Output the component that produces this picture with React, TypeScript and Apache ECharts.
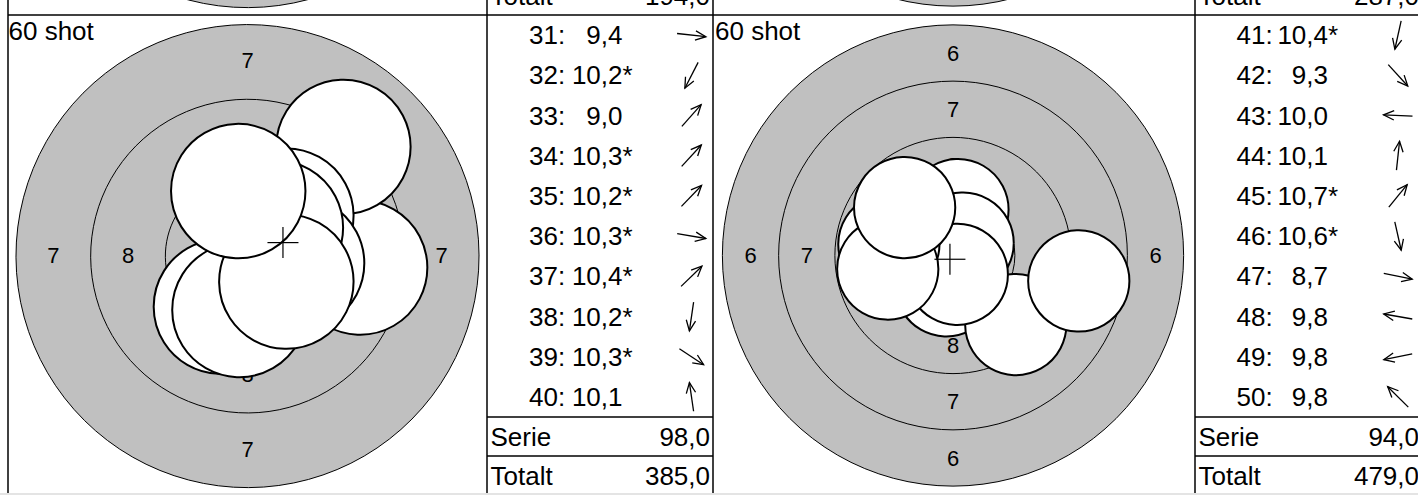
import React, { useEffect, useRef } from "react";
import * as echarts from "echarts";

const FONT_FAMILY = '"Liberation Sans", Arial, Helvetica, sans-serif';

// ---- Target geometry: 10 m air rifle target (millimetres) ----
const ringValues = [6, 7, 8, 9, 10];
const ringRadiiMm = [10.25, 7.75, 5.25, 2.75, 0.25];
const pelletRadiusMm = 2.25;
const highestLabelledRing = 8;

// ---- Texts ----
const panelTitle = "60 shot";
const serieLabel = "Serie";
const totalLabel = "Totalt";

// ---- Left panel: shots 31-40 ----
const shotNumbersA = [31, 32, 33, 34, 35, 36, 37, 38, 39, 40];
const scoresA = [9.4, 10.2, 9.0, 10.3, 10.2, 10.3, 10.4, 10.2, 10.3, 10.1];
const innerTenA = [false, true, false, true, true, true, true, true, true, false];
const shotXA = [3.77, -0.89, 3.21, 1.15, 1.3, 1.66, 0.95, -0.27, 1.3, -0.31];
const shotYA = [-0.42, -1.73, 3.62, 1.25, 1.35, -0.28, 0.92, -1.84, -0.86, 2.14];
const serieA = 98.0;
const totalA = 385.0;
const outerRingA = 7;

// ---- Right panel: shots 41-50 ----
const shotNumbersB = [41, 42, 43, 44, 45, 46, 47, 48, 49, 50];
const scoresB = [10.4, 9.3, 10.0, 10.1, 10.7, 10.6, 8.7, 9.8, 9.8, 9.8];
const innerTenB = [true, false, false, false, true, true, false, false, false, false];
const shotXB = [-0.3, 2.79, -2.4, 0.22, 0.45, 0.19, 5.59, -2.85, -2.9, -2.15];
const shotYB = [-1.35, -3.07, 0.1, 2.04, 0.55, -0.84, -1.13, 0.5, -0.6, 2.13];
const serieB = 94.0;
const totalB = 479.0;
const outerRingB = 6;

// ---- Previous (partly visible) panels above ----
const previousTotals = [194.0, 287.0];
const previousOuterRings = [7, 6];

// ---- Layout (pixels) ----
const ROW_TOP = 15;
const ROW_H = 40.2;
const SERIE_TOP = 417;
const TOTAL_TOP = 456;
const BOTTOM = 495;
const PERIOD = 480;

const layouts = [
  { frameX: 8, tableX: 487, tableR: 713, cx: 247.5, cy: 255, half: 239, range: 8, titleX: 8.5, labelDx: 42, scoreDx: 135.5, arrowDx: 204.5, valueR: 710 },
  { frameX: 713, tableX: 1195, tableR: 1420, cx: 953, cy: 255.5, half: 236.25, range: 10.5, titleX: 715, labelDx: 41.5, scoreDx: 133, arrowDx: 203, valueR: 1419 },
];

const fmt = (v: number) => v.toFixed(1).replace(".", ",");

const txt = (x: number, y: number, text: string, align: string, size = 26) => ({
  type: "text",
  x,
  y,
  silent: true,
  z: 10,
  style: { text, font: `${size}px ${FONT_FAMILY}`, fill: "#000", align, verticalAlign: "middle" },
});

const ln = (x1: number, y1: number, x2: number, y2: number, w = 1.5, color = "#000") => ({
  type: "line",
  silent: true,
  z: 10,
  shape: { x1, y1, x2, y2 },
  style: { stroke: color, lineWidth: w },
});

function arrowElements(cx: number, cy: number, x: number, y: number) {
  const d = Math.hypot(x, y) || 1;
  const ux = x / d;
  const uy = -y / d;
  const half = 14.5;
  const sx = cx - ux * half;
  const sy = cy - uy * half;
  const tx = cx + ux * half;
  const ty = cy + uy * half;
  const head = 11.5;
  const ang = (24 * Math.PI) / 180;
  const bx = -ux;
  const by = -uy;
  const rot = (a: number) => [bx * Math.cos(a) - by * Math.sin(a), bx * Math.sin(a) + by * Math.cos(a)];
  const a1 = rot(ang);
  const a2 = rot(-ang);
  return [
    { type: "line", silent: true, z: 10, shape: { x1: sx, y1: sy, x2: tx, y2: ty }, style: { stroke: "#000", lineWidth: 1.3 } },
    {
      type: "polyline",
      silent: true,
      z: 10,
      shape: { points: [[tx + a1[0] * head, ty + a1[1] * head], [tx, ty], [tx + a2[0] * head, ty + a2[1] * head]] },
      style: { stroke: "#000", lineWidth: 1.3, fill: "none" },
    },
  ];
}

const ringRadius = (v: number) => ringRadiiMm[ringValues.indexOf(v)];

// rings drawn around a centre (0, cyMm) of the grid
function ringSeries(gi: number, outer: number, cyMm: number, onlyOuter: boolean) {
  const data = ringValues
    .filter((v) => (onlyOuter ? v === outer : v >= outer))
    .map((v) => [0, cyMm, ringRadius(v), v === outer ? 1 : 0]);
  return {
    type: "custom",
    xAxisIndex: gi,
    yAxisIndex: gi,
    silent: true,
    clip: false,
    z: 1,
    data,
    renderItem: (_p: any, api: any) => {
      const c = api.coord([api.value(0), api.value(1)]);
      const r = api.size([api.value(2), 0])[0];
      const isOuter = api.value(3) === 1;
      return {
        type: "circle",
        shape: { cx: c[0], cy: c[1], r },
        style: { fill: isOuter ? "#c0c0c0" : "none", stroke: "#000", lineWidth: 1 },
      };
    },
  };
}

function buildOption() {
  const panels = [
    { nums: shotNumbersA, scores: scoresA, inner: innerTenA, xs: shotXA, ys: shotYA, serie: serieA, total: totalA, outer: outerRingA, prevTotal: previousTotals[0], prevOuter: previousOuterRings[0] },
    { nums: shotNumbersB, scores: scoresB, inner: innerTenB, xs: shotXB, ys: shotYB, serie: serieB, total: totalB, outer: outerRingB, prevTotal: previousTotals[1], prevOuter: previousOuterRings[1] },
  ];
  const grid: any[] = [];
  const xAxis: any[] = [];
  const yAxis: any[] = [];
  const series: any[] = [];
  const elements: any[] = [];

  panels.forEach((p, k) => {
    const L = layouts[k];
    const gi = grid.length;
    grid.push({ left: L.cx - L.half, top: L.cy - L.half, width: 2 * L.half, height: 2 * L.half });
    xAxis.push({ gridIndex: gi, type: "value", min: -L.range, max: L.range, show: false });
    yAxis.push({ gridIndex: gi, type: "value", min: -L.range, max: L.range, show: false });

    // current target rings
    series.push(ringSeries(gi, p.outer, 0, false));
    // previous panel's target, one panel height above (only its bottom is visible)
    const prevCentreMm = (PERIOD * L.range) / L.half;
    series.push(ringSeries(gi, p.prevOuter, prevCentreMm, true));

    // ring numbers
    const labelData: number[][] = [];
    for (let v = p.outer; v <= highestLabelledRing; v++) {
      const m = (ringRadius(v) + ringRadius(v + 1)) / 2;
      labelData.push([0, m, v], [0, -m, v], [-m, 0, v], [m, 0, v]);
    }
    series.push({
      type: "custom",
      xAxisIndex: gi,
      yAxisIndex: gi,
      silent: true,
      z: 2,
      data: labelData,
      renderItem: (_p: any, api: any) => {
        const c = api.coord([api.value(0), api.value(1)]);
        return {
          type: "text",
          x: c[0],
          y: c[1],
          style: { text: String(api.value(2)), font: `22px ${FONT_FAMILY}`, fill: "#000", align: "center", verticalAlign: "middle" },
        };
      },
    });

    // shots
    series.push({
      type: "custom",
      xAxisIndex: gi,
      yAxisIndex: gi,
      silent: true,
      z: 3,
      data: p.xs.map((x, i) => [x, p.ys[i]]),
      renderItem: (_p: any, api: any) => {
        const c = api.coord([api.value(0), api.value(1)]);
        const r = api.size([pelletRadiusMm, 0])[0];
        return { type: "circle", shape: { cx: c[0], cy: c[1], r }, style: { fill: "#fff", stroke: "#000", lineWidth: 2 } };
      },
    });

    // mean point of impact
    const mx = p.xs.reduce((a, b) => a + b, 0) / p.xs.length;
    const my = p.ys.reduce((a, b) => a + b, 0) / p.ys.length;
    series.push({
      type: "custom",
      xAxisIndex: gi,
      yAxisIndex: gi,
      silent: true,
      z: 4,
      data: [[mx, my]],
      renderItem: (_p: any, api: any) => {
        const c = api.coord([api.value(0), api.value(1)]);
        const h = 15.5;
        return {
          type: "group",
          children: [
            { type: "line", shape: { x1: c[0] - h, y1: c[1], x2: c[0] + h, y2: c[1] }, style: { stroke: "#000", lineWidth: 1.2 } },
            { type: "line", shape: { x1: c[0], y1: c[1] - h, x2: c[0], y2: c[1] + h }, style: { stroke: "#000", lineWidth: 1.2 } },
          ],
        };
      },
    });

    // ---- table & frame ----
    elements.push(ln(L.frameX, 0, L.frameX, BOTTOM - 2));
    elements.push(ln(L.tableX, 0, L.tableX, BOTTOM - 2));
    elements.push(ln(L.tableX, SERIE_TOP, L.tableR, SERIE_TOP));
    elements.push(ln(L.tableX, TOTAL_TOP, L.tableR, TOTAL_TOP));
    elements.push(txt(L.titleX, 30.5, panelTitle, "left"));

    p.nums.forEach((n, i) => {
      const yc = ROW_TOP + ROW_H * (i + 0.5);
      elements.push(txt(L.tableX + L.labelDx, yc, `${n}:`, "left"));
      elements.push(txt(L.tableX + L.scoreDx, yc, fmt(p.scores[i]), "right"));
      if (p.inner[i]) elements.push(txt(L.tableX + L.scoreDx, yc, "*", "left"));
      arrowElements(L.tableX + L.arrowDx, yc, p.xs[i], p.ys[i]).forEach((e) => elements.push(e));
    });

    const serieY = (SERIE_TOP + TOTAL_TOP) / 2;
    const totalY = (TOTAL_TOP + BOTTOM) / 2;
    elements.push(txt(L.tableX + 3.5, serieY, serieLabel, "left"));
    elements.push(txt(L.valueR, serieY, fmt(p.serie), "right"));
    elements.push(txt(L.tableX + 3.5, totalY, totalLabel, "left"));
    elements.push(txt(L.valueR, totalY, fmt(p.total), "right"));
    // previous panel's total row (cut off at the top)
    elements.push(txt(L.tableX + 3.5, totalY - PERIOD, totalLabel, "left"));
    elements.push(txt(L.valueR, totalY - PERIOD, fmt(p.prevTotal), "right"));
  });

  elements.push(ln(8, ROW_TOP, 1418, ROW_TOP));
  elements.push({ type: "rect", silent: true, z: 11, shape: { x: 0, y: 493, width: 1418, height: 2 }, style: { fill: "#e4e4e4" } });

  return {
    animation: false,
    backgroundColor: "#ffffff",
    grid,
    xAxis,
    yAxis,
    series,
    graphic: { elements },
  };
}

export default function App() {
  const ref = useRef<HTMLDivElement>(null);
  useEffect(() => {
    if (!ref.current) return;
    const chart = echarts.init(ref.current, undefined, { renderer: "svg" });
    chart.setOption(buildOption() as any);
    return () => chart.dispose();
  }, []);
  return (
    <div
      ref={ref}
      style={{ position: "absolute", left: 0, top: 0, width: 1418, height: 495, background: "#fff", overflow: "hidden" }}
    />
  );
}
